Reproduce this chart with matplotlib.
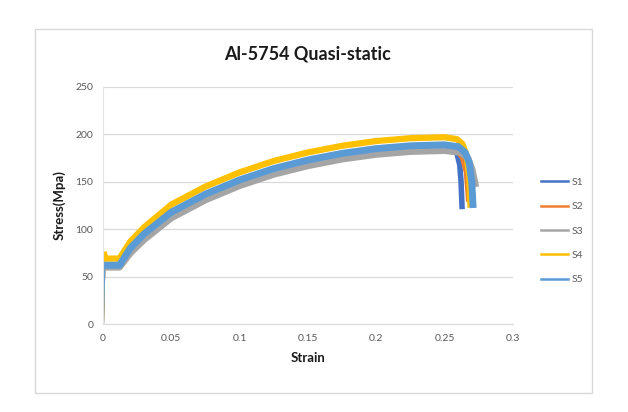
import numpy as np
import matplotlib.pyplot as plt
from matplotlib.patches import Rectangle

# values (strain, stress in MPa)
s1_strain = [0, 0.0007, 0.001, 0.012, 0.02, 0.03, 0.05, 0.075, 0.1, 0.125, 0.15, 0.175, 0.2, 0.225, 0.25, 0.256, 0.259, 0.261, 0.262, 0.2627]
s1_stress = [0, 45, 62, 62, 79, 94, 117, 136, 151, 163, 172, 179, 184, 187, 188, 186, 180, 168, 150, 124]

s2_strain = [0, 0.0007, 0.001, 0.012, 0.02, 0.03, 0.05, 0.075, 0.1, 0.125, 0.15, 0.175, 0.2, 0.225, 0.25, 0.259, 0.263, 0.266, 0.2675]
s2_stress = [0, 44, 61, 61, 76, 91, 114, 133, 148, 160, 169, 176, 181, 184, 185, 183, 176, 160, 132]

s3_strain = [0, 0.0007, 0.001, 0.012, 0.02, 0.03, 0.05, 0.075, 0.1, 0.125, 0.15, 0.175, 0.2, 0.225, 0.25, 0.262, 0.267, 0.27, 0.2722]
s3_stress = [0, 43, 60, 60, 75, 89, 112, 131, 146, 158, 167, 174, 179, 182, 183, 181, 175, 163, 148]

s4_strain = [0, 0.0007, 0.001, 0.0015, 0.012, 0.02, 0.03, 0.05, 0.075, 0.1, 0.125, 0.15, 0.175, 0.2, 0.225, 0.25, 0.259, 0.263, 0.266, 0.268, 0.2688]
s4_stress = [0, 50, 73, 69, 69, 87, 102, 126, 145, 160, 172, 181, 188, 193, 196, 197, 195, 190, 178, 155, 126]

s5_strain = [0, 0.0007, 0.001, 0.012, 0.02, 0.03, 0.05, 0.075, 0.1, 0.125, 0.15, 0.175, 0.2, 0.225, 0.25, 0.26, 0.265, 0.268, 0.2698, 0.2707]
s5_stress = [0, 45, 62, 62, 80, 95, 118, 137, 152, 164, 173, 180, 185, 188, 189, 187, 181, 170, 150, 126]

labels = ["S1", "S2", "S3", "S4", "S5"]
colors = ["#4472C4", "#ED7D31", "#A5A5A5", "#FFC000", "#5B9BD5"]
xticks = [0, 0.05, 0.1, 0.15, 0.2, 0.25, 0.3]
xticklabels = ["0", "0.05", "0.1", "0.15", "0.2", "0.25", "0.3"]
yticks = [0, 50, 100, 150, 200, 250]

plt.rcParams['font.family'] = ['Lato', 'DejaVu Sans']

W, H = 628, 412
fig = plt.figure(figsize=(W / 100, H / 100), dpi=100)
fig.patch.set_facecolor("white")

# chart area border
fig.patches.append(Rectangle((35 / W, 1 - 393 / H), (592 - 35) / W, (393 - 29) / H,
                             transform=fig.transFigure, fill=False,
                             edgecolor="#D9D9D9", linewidth=1.0))

ax = fig.add_axes([103 / W, 1 - 324 / H, (513 - 103) / W, (324 - 87) / H])

series = [(s1_strain, s1_stress), (s2_strain, s2_stress), (s3_strain, s3_stress),
          (s4_strain, s4_stress), (s5_strain, s5_stress)]
widths = [4.0, 4.0, 5.0, 4.5, 5.0]
for (x, y), lab, c, lw in zip(series, labels, colors, widths):
    # thin initial elastic rise, thick noisy band afterwards
    ax.plot(x[:3], y[:3], color=c, lw=1.5)
    ax.plot(x[2:], y[2:], color=c, lw=lw, label=lab, solid_joinstyle="round")

ax.set_xlim(0, 0.3)
ax.set_ylim(0, 250)
ax.set_xticks(xticks)
ax.set_xticklabels(xticklabels)
ax.set_yticks(yticks)
ax.grid(axis="y", color="#D9D9D9", lw=0.9)
ax.set_axisbelow(True)
for side in ["top", "right"]:
    ax.spines[side].set_visible(False)
ax.spines["bottom"].set_color("#D9D9D9")
ax.spines["left"].set_color("#E4E4E4")
ax.tick_params(length=0, labelsize=7.5, labelcolor="#595959", pad=7)

ax.set_title("Al-5754 Quasi-static", fontsize=13, fontweight="bold", color="#1a1a1a", pad=20)
ax.set_xlabel("Strain", fontsize=9.5, fontweight="bold", color="#1a1a1a", labelpad=7)
ax.set_ylabel("Stress(Mpa)", fontsize=9.5, fontweight="bold", color="#1a1a1a", labelpad=7)

leg_lines = [plt.Line2D([], [], color=c, lw=1.8) for c in colors]
fig.legend(leg_lines, labels, loc="center left", bbox_to_anchor=(532 / W, 1 - 231 / H),
           frameon=False, fontsize=7.5, labelcolor="#595959", handlelength=2.6,
           handletextpad=0.3, labelspacing=1.45)

fig.savefig("out.png", dpi=100)
